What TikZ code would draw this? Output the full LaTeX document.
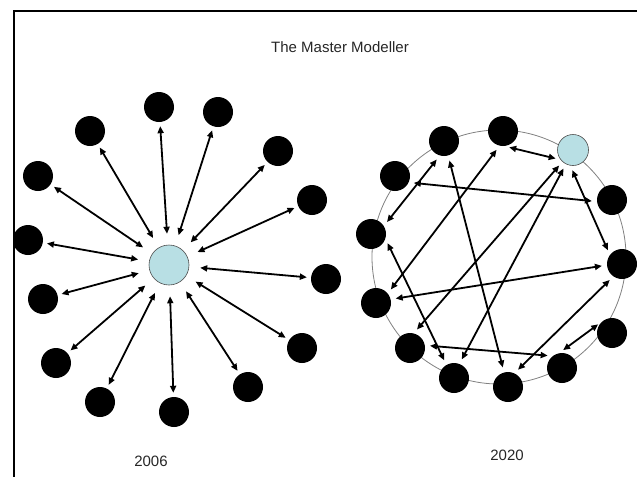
\documentclass[tikz,border=0pt]{standalone}
\usepackage{fontspec}
\setmainfont{Liberation Sans}
\usetikzlibrary{arrows.meta}
\definecolor{hubblue}{RGB}{184,223,228}
\begin{document}
\begin{tikzpicture}[x=1pt,y=-1pt,
    dot/.style={circle,fill=black,minimum size=30pt,inner sep=0pt},
    hub/.style={circle,draw=black!70,line width=0.6pt,fill=hubblue,inner sep=0pt},
    link/.style={{Triangle[length=7pt,width=6pt]}-{Triangle[length=7pt,width=6pt]},line width=1.8pt},
    txt/.style={font=\fontsize{15}{18}\selectfont,text=black!85}]
    \useasboundingbox (0,0) rectangle (637,477);
    \draw[line width=2.2pt] (637,11) -- (14,11) -- (14,477);

    \node[txt] (title) at (340,47) {The Master Modeller};

    % 2006: every model goes through the hub
    \node[hub,minimum size=40pt] (hub) at (169,265) {};
    \foreach \n/\x/\y in {1/159/107,2/218/112,3/278/151,4/312/200,5/326/279,6/302/348,7/248/387,
        8/174/412,9/100/402,10/56/363,11/43/299,12/28/240,13/38/176,14/90/131}{
        \node[dot] (l\n) at (\x,\y) {};
        \draw[link,shorten <=11pt,shorten >=4pt] (hub) -- (l\n);
    }
    \node[txt] (y2006) at (151,461) {2006};

    % 2020: the ring
    \draw[gray,line width=0.8pt] (499,257) circle [radius=127pt];
    \node[hub,minimum size=31pt] (rc) at (573,150) {};
    \foreach \n/\x/\y in {a/444/141,b/503/131,d/612/200,e/622/264,f/612/333,g/562/368,
        h/508/387,i/454/378,j/410/348,k/376/303,l/371/234,m/395/176}
        \node[dot] (r\n) at (\x,\y) {};
    \foreach \a/\p/\b/\q in {rb/-85/rc/218,rc/-100/re/143,rm/-25/rd/186,ra/-106/rl/32,
        ra/-74/rh/105,rb/-103/rk/39,rc/-132/rj/76,rc/-117/ri/69,rl/-18/ri/120,
        rk/14/re/184,rj/10/rg/128,re/235/rh/65,rf/130/rg/101}
        \draw[link,shorten <=5pt,shorten >=5pt] (\a.\p) -- (\b.\q);
    \node[txt] (y2020) at (507,455) {2020};
\end{tikzpicture}
\end{document}
